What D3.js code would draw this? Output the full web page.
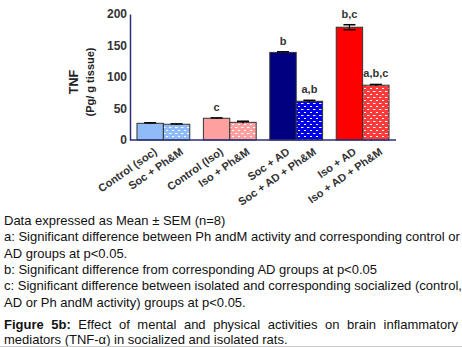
<!DOCTYPE html>
<html>
<head>
<meta charset="utf-8">
<script src="https://cdn.jsdelivr.net/npm/d3@7"></script>
<style>
  body { margin: 0; background: #fff; }
  svg { display: block; font-family: "Liberation Sans", Arial, sans-serif; }
</style>
</head>
<body>
<div id="chart"></div>
<script>
var categories = ["Control (soc)", "Soc + Ph&M", "Control (Iso)", "Iso + Ph&M",
                  "Soc + AD", "Soc + AD + Ph&M", "Iso + AD", "Iso + AD + Ph&M"];
var groups = ["soc", "iso", "socAD", "isoAD"];
var means = [26.5, 25, 34.5, 28, 139, 61.5, 179, 87];
var sems = [0.8, 0.6, 0.6, 1.8, 1, 1.5, 4, 1.2];
var sigLabels = ["", "", "c", "", "b", "a,b", "b,c", "a,b,c"];
var fills = ["#8fbcf8", "#8fbcf8", "#ffa0a0", "#ffa0a0", "#000080", "#0000e6", "#ff0000", "#ff3a3a"];
var dotted = [false, true, false, true, false, true, false, true];
var yTicks = [0, 50, 100, 150, 200];

var notes = [
  "Data expressed as Mean \u00b1 SEM (n=8)",
  "a: Significant difference between Ph andM activity and corresponding control or",
  "AD groups at p<0.05.",
  "b: Significant difference from corresponding AD groups at p<0.05",
  "c: Significant difference between isolated and corresponding socialized (control,",
  "AD or Ph andM activity) groups at p<0.05."
];
var captionBold = "Figure 5b:";
var captionLine1 = " Effect of mental and physical activities on brain inflammatory";
var captionLine2 = "mediators (TNF-\u03b1) in socialized and isolated rats.";

var W = 462, H = 347;
var plot = {left: 130, right: 396, top: 14, bottom: 140};

var svg = d3.select("#chart").append("svg")
    .attr("width", W)
    .attr("height", H);

// white dash pattern used on the Ph&M bars
var defs = svg.append("defs");
fills.forEach(function(c, i) {
  if (!dotted[i]) return;
  var p = defs.append("pattern")
      .attr("id", "dots" + i)
      .attr("patternUnits", "userSpaceOnUse")
      .attr("width", 6).attr("height", 6);
  p.append("rect").attr("width", 6).attr("height", 6).attr("fill", c);
  p.append("rect").attr("x", 1).attr("y", 1).attr("width", 2.5).attr("height", 1).attr("fill", "#fff");
  p.append("rect").attr("x", 4).attr("y", 4).attr("width", 2.5).attr("height", 1).attr("fill", "#fff");
});

var y = d3.scaleLinear().domain([0, 200]).range([plot.bottom, plot.top]);

var gx = d3.scaleBand().domain(groups)
    .range([plot.left, plot.right])
    .paddingInner(0.205)
    .paddingOuter(0.105);

var inner = d3.scaleBand().domain([0, 1]).range([0, gx.bandwidth()]);

function barX(i) { return gx(groups[Math.floor(i / 2)]) + inner(i % 2); }
function barC(i) { return barX(i) + inner.bandwidth() / 2; }

var bars = categories.map(function(c, i) { return i; });

svg.selectAll("rect.bar")
    .data(bars)
  .enter().append("rect")
    .attr("class", "bar")
    .attr("x", barX)
    .attr("width", inner.bandwidth())
    .attr("y", function(i) { return y(means[i]); })
    .attr("height", function(i) { return y(0) - y(means[i]); })
    .attr("fill", function(i) { return dotted[i] ? "url(#dots" + i + ")" : fills[i]; })
    .attr("stroke", "#333")
    .attr("stroke-width", 1);

// error bars
var eb = svg.selectAll("g.err")
    .data(bars)
  .enter().append("g")
    .attr("class", "err");
eb.append("line")
    .attr("x1", barC).attr("x2", barC)
    .attr("y1", function(i) { return y(means[i] - sems[i]); })
    .attr("y2", function(i) { return y(means[i] + sems[i]); })
    .attr("stroke", "#000").attr("stroke-width", 1.2);
eb.append("line")
    .attr("x1", function(i) { return barC(i) - 6; })
    .attr("x2", function(i) { return barC(i) + 6; })
    .attr("y1", function(i) { return y(means[i] + sems[i]); })
    .attr("y2", function(i) { return y(means[i] + sems[i]); })
    .attr("stroke", "#000").attr("stroke-width", 1.5);
eb.filter(function(i) { return sems[i] > 2; }).append("line")
    .attr("x1", function(i) { return barC(i) - 6; })
    .attr("x2", function(i) { return barC(i) + 6; })
    .attr("y1", function(i) { return y(means[i] - sems[i]); })
    .attr("y2", function(i) { return y(means[i] - sems[i]); })
    .attr("stroke", "#000").attr("stroke-width", 1.5);

// significance letters
svg.selectAll("text.sig")
    .data(bars.filter(function(i) { return sigLabels[i]; }))
  .enter().append("text")
    .attr("class", "sig")
    .attr("x", barC)
    .attr("y", function(i) { return y(means[i] + sems[i]) - 7; })
    .attr("text-anchor", "middle")
    .attr("font-size", 11)
    .attr("font-weight", "bold")
    .attr("fill", "#333")
    .text(function(i) { return sigLabels[i]; });

// axes
var yAxis = d3.axisLeft(y).tickValues(yTicks).tickSize(0).tickPadding(3);
var ya = svg.append("g")
    .attr("transform", "translate(" + plot.left + ",0)")
    .call(yAxis);
ya.select(".domain").attr("stroke", "#2b2f7a").attr("stroke-width", 1.5);
ya.selectAll("text")
    .attr("font-size", 12)
    .attr("font-weight", "bold")
    .attr("font-family", "Liberation Sans, Arial, sans-serif")
    .attr("fill", "#333");

svg.append("line")
    .attr("x1", plot.left).attr("x2", plot.right)
    .attr("y1", y(0)).attr("y2", y(0))
    .attr("stroke", "#2b2f7a").attr("stroke-width", 1.5);

// x labels
svg.selectAll("text.xl")
    .data(bars)
  .enter().append("text")
    .attr("class", "xl")
    .attr("transform", function(i) { return "translate(" + (barC(i) + 3) + "," + (y(0) + 7) + ") rotate(-35)"; })
    .attr("text-anchor", "end")
    .attr("dy", "0.71em")
    .attr("font-size", 11)
    .attr("font-weight", "bold")
    .attr("fill", "#333")
    .text(function(i) { return categories[i]; });

// y title
var yt = svg.append("text")
    .attr("transform", "translate(78,82) rotate(-90)")
    .attr("text-anchor", "middle")
    .attr("font-weight", "bold")
    .attr("fill", "#222");
yt.append("tspan").attr("x", 0).attr("font-size", 12.5).text("TNF");
yt.append("tspan").attr("x", 0).attr("dy", 16).attr("font-size", 11).text("(Pg/ g tissue)");

// notes below the chart
var notesG = svg.append("g")
    .attr("font-size", 13)
    .attr("fill", "#111");
notesG.selectAll("text")
    .data(notes)
  .enter().append("text")
    .attr("x", 4)
    .attr("y", function(d, i) { return 225 + i * 16.3; })
    .text(function(d) { return d; });

var cap1 = svg.append("text")
    .attr("x", 4).attr("y", 329)
    .attr("font-size", 13)
    .attr("fill", "#111");
cap1.append("tspan").attr("font-weight", "bold").text(captionBold);
cap1.append("tspan").text(captionLine1);
var natural = cap1.node().getComputedTextLength();
var spaces = (captionBold + captionLine1).split(" ").length - 1;
cap1.style("word-spacing", ((454 - natural) / spaces) + "px");

svg.append("text")
    .attr("x", 4).attr("y", 344)
    .attr("font-size", 13)
    .attr("fill", "#111")
    .text(captionLine2);

svg.append("line")
    .attr("x1", 0).attr("x2", W)
    .attr("y1", 346.5).attr("y2", 346.5)
    .attr("stroke", "#ccc").attr("stroke-width", 1);
</script>
</body>
</html>
